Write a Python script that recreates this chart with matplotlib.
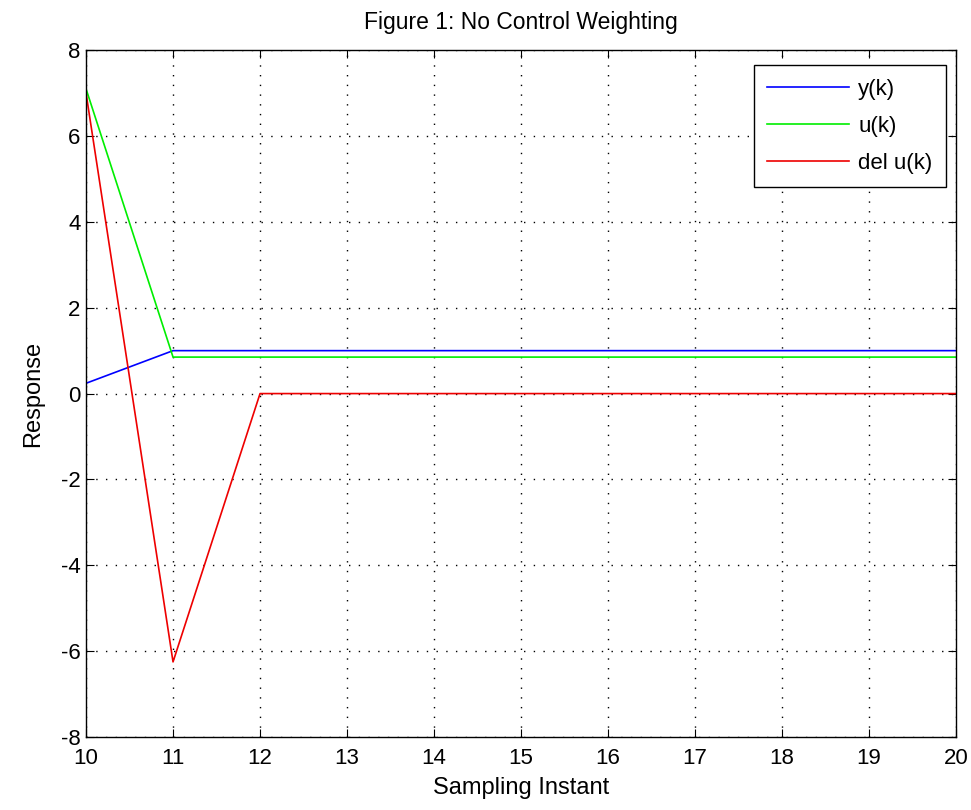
import matplotlib.pyplot as plt

k = [10, 11, 12, 13, 14, 15, 16, 17, 18, 19, 20]
y = [0.24, 1.0, 1.0, 1.0, 1.0, 1.0, 1.0, 1.0, 1.0, 1.0, 1.0]
u = [7.1, 0.85, 0.85, 0.85, 0.85, 0.85, 0.85, 0.85, 0.85, 0.85, 0.85]
du = [7.0, -6.25, 0, 0, 0, 0, 0, 0, 0, 0, 0]

plt.rcParams['font.family'] = ['Liberation Sans', 'DejaVu Sans']
plt.rcParams['axes.unicode_minus'] = False

fig = plt.figure(figsize=(9.71, 8.10), dpi=100)
ax = fig.add_axes([0.0886, 0.0901, 0.896, 0.848])

ax.plot(k, y, color='#0000ff', lw=1.2, label='y(k)')
ax.plot(k, u, color='#00ee00', lw=1.2, label='u(k)')
ax.plot(k, du, color='#ee0000', lw=1.2, label='del u(k)')

ax.set_xlim(10, 20)
ax.set_ylim(-8, 8)
ax.set_xticks(range(10, 21))
ax.set_yticks(range(-8, 9, 2))
ax.tick_params(direction='in', labelsize=16, length=6, top=True, right=True)
ax.tick_params(axis='x', pad=8)
ax.tick_params(axis='y', pad=4)
ax.grid(True, color='black', linestyle=(0, (1, 6)), linewidth=1.0)
for s in ax.spines.values():
    s.set_linewidth(1.0)

ax.set_xlabel('Sampling Instant', fontsize=17, labelpad=6)
ax.set_ylabel('Response', fontsize=17, labelpad=12)
ax.set_title('Figure 1: No Control Weighting', fontsize=16.5, pad=15)

leg = ax.legend(loc='upper right', bbox_to_anchor=(0.988, 0.978), fontsize=16,
                fancybox=False, framealpha=1, edgecolor='black',
                handlelength=3.7, handletextpad=0.4, labelspacing=0.72,
                borderpad=0.6, borderaxespad=0)
leg.get_frame().set_linewidth(1.0)

fig.savefig('out.png', dpi=100)
